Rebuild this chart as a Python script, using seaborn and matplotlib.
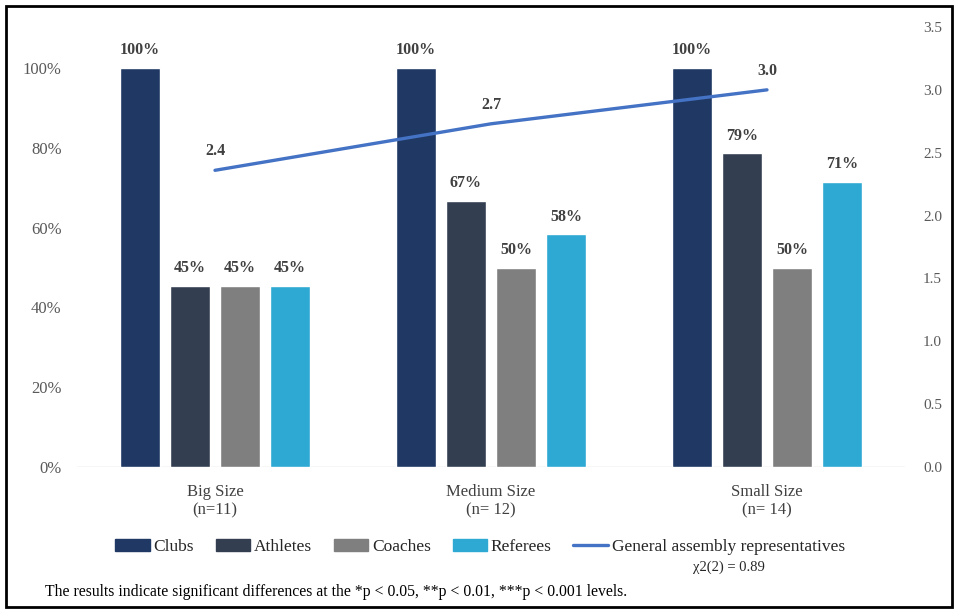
import matplotlib
matplotlib.use("Agg")
import matplotlib.pyplot as plt
import matplotlib.patches as mpatches
from matplotlib.lines import Line2D
import seaborn as sns
import pandas as pd

# ---- data ----
categories = ["Big Size\n(n=11)", "Medium Size\n(n= 12)", "Small Size\n(n= 14)"]
groups = ["Clubs", "Athletes", "Coaches", "Referees"]
clubs = [1.00, 1.00, 1.00]
athletes = [0.4545, 0.667, 0.786]
coaches = [0.4545, 0.50, 0.50]
referees = [0.4545, 0.583, 0.714]
assembly = [2.36, 2.73, 3.00]
line_label = "General assembly representatives"
colors = ["#1F3864", "#333F50", "#7F7F7F", "#2EA9D3"]
line_color = "#4472C4"

sns.set_theme(style="white")
plt.rcParams["font.family"] = ["Liberation Serif", "DejaVu Serif"]

rows = []
for g, vals in zip(groups, [clubs, athletes, coaches, referees]):
    for c, v in zip(categories, vals):
        rows.append({"category": c, "group": g, "value": v})
df = pd.DataFrame(rows)

fig = plt.figure(figsize=(9.57, 6.15), dpi=100)
ax = fig.add_axes([77/957, 1-467/615, 828/957, 440/615])

sns.barplot(data=df, x="category", y="value", hue="group", order=categories,
            hue_order=groups, palette=colors, width=0.725, gap=0.2,
            ax=ax, legend=False, saturation=1, errorbar=None)

ax.set_xlim(-0.5, 2.5)
ax.set_ylim(0, 440/399)
ax.set_yticks([0, 0.2, 0.4, 0.6, 0.8, 1.0])
ax.set_yticklabels(["0%", "20%", "40%", "60%", "80%", "100%"])
ax.set_xlabel("")
ax.set_ylabel("")
for s in ax.spines.values():
    s.set_visible(False)
ax.axhline(0, color="#D9D9D9", lw=1, zorder=0)
ax.tick_params(axis="y", length=0, pad=11, labelsize=12, labelcolor="#595959")
ax.tick_params(axis="x", length=0, pad=12, labelsize=12, labelcolor="#404040")
for t in ax.get_xticklabels():
    t.set_linespacing(1.25)

for cont in ax.containers:
    labels = [f"{round(b.get_height()*100):.0f}%" for b in cont]
    ax.bar_label(cont, labels=labels, padding=7, fontsize=11.5, fontweight="bold",
                 color="#404040")

ax2 = ax.twinx()
sns.lineplot(x=list(range(len(categories))), y=assembly, ax=ax2, color=line_color,
             lw=2.4, zorder=5)
ax2.set_ylim(0, 3.5)
ax2.set_yticks([0, 0.5, 1.0, 1.5, 2.0, 2.5, 3.0, 3.5])
ax2.set_yticklabels([f"{t:.1f}" for t in [0, 0.5, 1.0, 1.5, 2.0, 2.5, 3.0, 3.5]])
ax2.tick_params(axis="y", length=0, pad=13, labelsize=11, labelcolor="#595959")
for s in ax2.spines.values():
    s.set_visible(False)
ax2.grid(False)
ax.grid(False)
for i, v in enumerate(assembly):
    ax2.annotate(f"{v:.1f}", (i, v), xytext=(0, 8), textcoords="offset points",
                 ha="center", va="bottom", fontsize=11.5, fontweight="bold",
                 color="#404040")

handles = [mpatches.Patch(color=c, label=g) for g, c in zip(groups, colors)]
handles.append(Line2D([0], [0], color=line_color, lw=2.4, label=line_label))
fig.legend(handles=handles, loc="center", bbox_to_anchor=(480/957, 1-547/615),
           ncol=5, frameon=False, fontsize=12.5, handlelength=2.0,
           handleheight=0.65, handletextpad=0.2, columnspacing=1.25,
           labelcolor="#262626")

fig.text(729/957, 1-567/615, "χ2(2) = 0.89", ha="center", va="center",
         fontsize=10.5, color="#262626")
fig.text(45/957, 1-592/615,
         "The results indicate significant differences at the *p < 0.05, **p < 0.01, ***p < 0.001 levels.",
         ha="left", va="center", fontsize=11.3, color="#000000")

fig.patches.append(mpatches.Rectangle((6/957, 1-607/615), 946/957, 601/615,
                                      transform=fig.transFigure, fill=False,
                                      edgecolor="black", lw=2))

fig.savefig("out.png", dpi=100)
